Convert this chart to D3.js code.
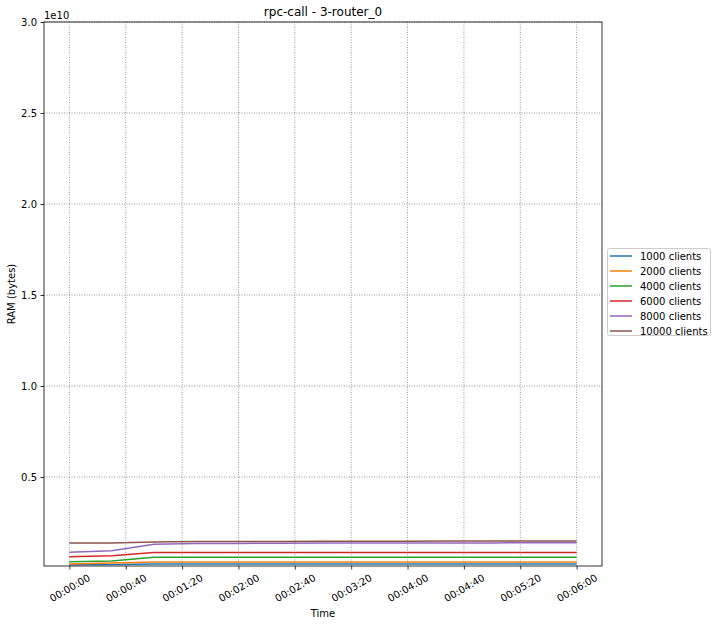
<!DOCTYPE html>
<html><head><meta charset="utf-8">
<script src="https://cdn.jsdelivr.net/npm/d3@7"></script>
<style>body{margin:0;background:#fff;} text{font-family:"DejaVu Sans",sans-serif;}</style>
</head><body><svg id="c" width="717" height="625"></svg>
<script>
const times = [0,30,60,90,120,150,180,210,240,270,300,330,360];
const seriesNames = ["1000 clients","2000 clients","4000 clients","6000 clients","8000 clients","10000 clients"];
const colors = ["#1f77b4","#ff7f0e","#2ca02c","#d62728","#9467bd","#8c564b"];
const s1000  = [1.75e8,1.9e8,2.15e8,2.2e8,2.2e8,2.2e8,2.2e8,2.2e8,2.2e8,2.2e8,2.2e8,2.2e8,2.2e8];
const s2000  = [2.2e8,2.7e8,3.3e8,3.3e8,3.3e8,3.3e8,3.3e8,3.3e8,3.3e8,3.3e8,3.3e8,3.3e8,3.3e8];
const s4000  = [3.5e8,3.8e8,5.9e8,5.9e8,5.9e8,5.9e8,5.9e8,5.9e8,5.9e8,5.9e8,5.9e8,5.9e8,5.9e8];
const s6000  = [6.2e8,6.8e8,8.5e8,8.5e8,8.5e8,8.5e8,8.5e8,8.5e8,8.5e8,8.5e8,8.5e8,8.5e8,8.5e8];
const s8000  = [8.6e8,9.5e8,1.30e9,1.34e9,1.35e9,1.36e9,1.37e9,1.37e9,1.38e9,1.38e9,1.38e9,1.39e9,1.39e9];
const s10000 = [1.37e9,1.37e9,1.43e9,1.45e9,1.46e9,1.46e9,1.47e9,1.47e9,1.47e9,1.48e9,1.48e9,1.48e9,1.48e9];
const allSeries = [s1000,s2000,s4000,s6000,s8000,s10000];
const xTicks = [0,40,80,120,160,200,240,280,320,360];
const yTicks = [0.5e10,1.0e10,1.5e10,2.0e10,2.5e10,3.0e10];

const L=44,R=602,T=22,B=566;
const svg=d3.select("#c");
const x=d3.scaleLinear().domain([-18,378]).range([L,R]);
const y=d3.scaleLinear().domain([1.1e8,3e10]).range([B,T]);
const fmtT=s=>{const h=Math.floor(s/3600),m=Math.floor((s%3600)/60),ss=s%60;const p=n=>String(n).padStart(2,"0");return p(h)+":"+p(m)+":"+p(ss);};

// grid
const g=svg.append("g");
g.selectAll(".gx").data(xTicks).join("line").attr("x1",d=>x(d)).attr("x2",d=>x(d)).attr("y1",T).attr("y2",B)
 .attr("stroke","#808080").attr("stroke-width",0.8).attr("stroke-dasharray","1,1.5");
g.selectAll(".gy").data(yTicks).join("line").attr("y1",d=>y(d)).attr("y2",d=>y(d)).attr("x1",L).attr("x2",R)
 .attr("stroke","#808080").attr("stroke-width",0.8).attr("stroke-dasharray","1,1.5");

// lines
const line=d3.line().x((d,i)=>x(times[i])).y(d=>y(d));
allSeries.forEach((s,i)=>{
  svg.append("path").datum(s).attr("d",line).attr("fill","none").attr("stroke",colors[i]).attr("stroke-width",1.5);
});

// axes
const xa=svg.append("g").attr("transform",`translate(0,${B})`)
 .call(d3.axisBottom(x).tickValues(xTicks).tickFormat(fmtT).tickSize(3.5).tickPadding(3.5));
xa.select(".domain").remove();
xa.selectAll("text").attr("font-size",10).attr("fill","#000").attr("text-anchor","middle")
 .attr("dy",null).attr("y",0)
 .attr("transform",d=>`translate(0,22) rotate(-30)`).attr("dominant-baseline","central");
xa.selectAll("line").attr("stroke","#000").attr("stroke-width",0.8);
const ya=svg.append("g").attr("transform",`translate(${L},0)`)
 .call(d3.axisLeft(y).tickValues(yTicks).tickFormat(d=>(d/1e10).toFixed(1)).tickSize(3.5).tickPadding(3.5));
ya.select(".domain").remove();
ya.selectAll("text").attr("font-size",10).attr("fill","#000");
ya.selectAll("line").attr("stroke","#000").attr("stroke-width",0.8);

svg.append("rect").attr("x",L).attr("y",T).attr("width",R-L).attr("height",B-T)
 .attr("fill","none").attr("stroke","#000").attr("stroke-width",0.8);

svg.append("text").attr("x",(L+R)/2).attr("y",T-6).attr("text-anchor","middle").attr("font-size",12).text("rpc-call - 3-router_0");
svg.append("text").attr("x",L).attr("y",T-3).attr("font-size",10).text("1e10");
svg.append("text").attr("x",(L+R)/2).attr("y",617).attr("text-anchor","middle").attr("font-size",10).text("Time");
svg.append("text").attr("transform",`translate(15,${(T+B)/2}) rotate(-90)`).attr("text-anchor","middle").attr("font-size",10).text("RAM (bytes)");

// legend
const lg=svg.append("g");
lg.append("rect").attr("x",607.5).attr("y",248.5).attr("width",103).attr("height",87).attr("rx",2)
 .attr("fill","#fff").attr("stroke","#ccc").attr("stroke-width",1);
seriesNames.forEach((n,i)=>{
  const yy=256+i*15;
  lg.append("line").attr("x1",610).attr("x2",632).attr("y1",yy).attr("y2",yy).attr("stroke",colors[i]).attr("stroke-width",1.5);
  lg.append("text").attr("x",640).attr("y",yy+3.5).attr("font-size",10).text(n);
});
</script></body></html>
